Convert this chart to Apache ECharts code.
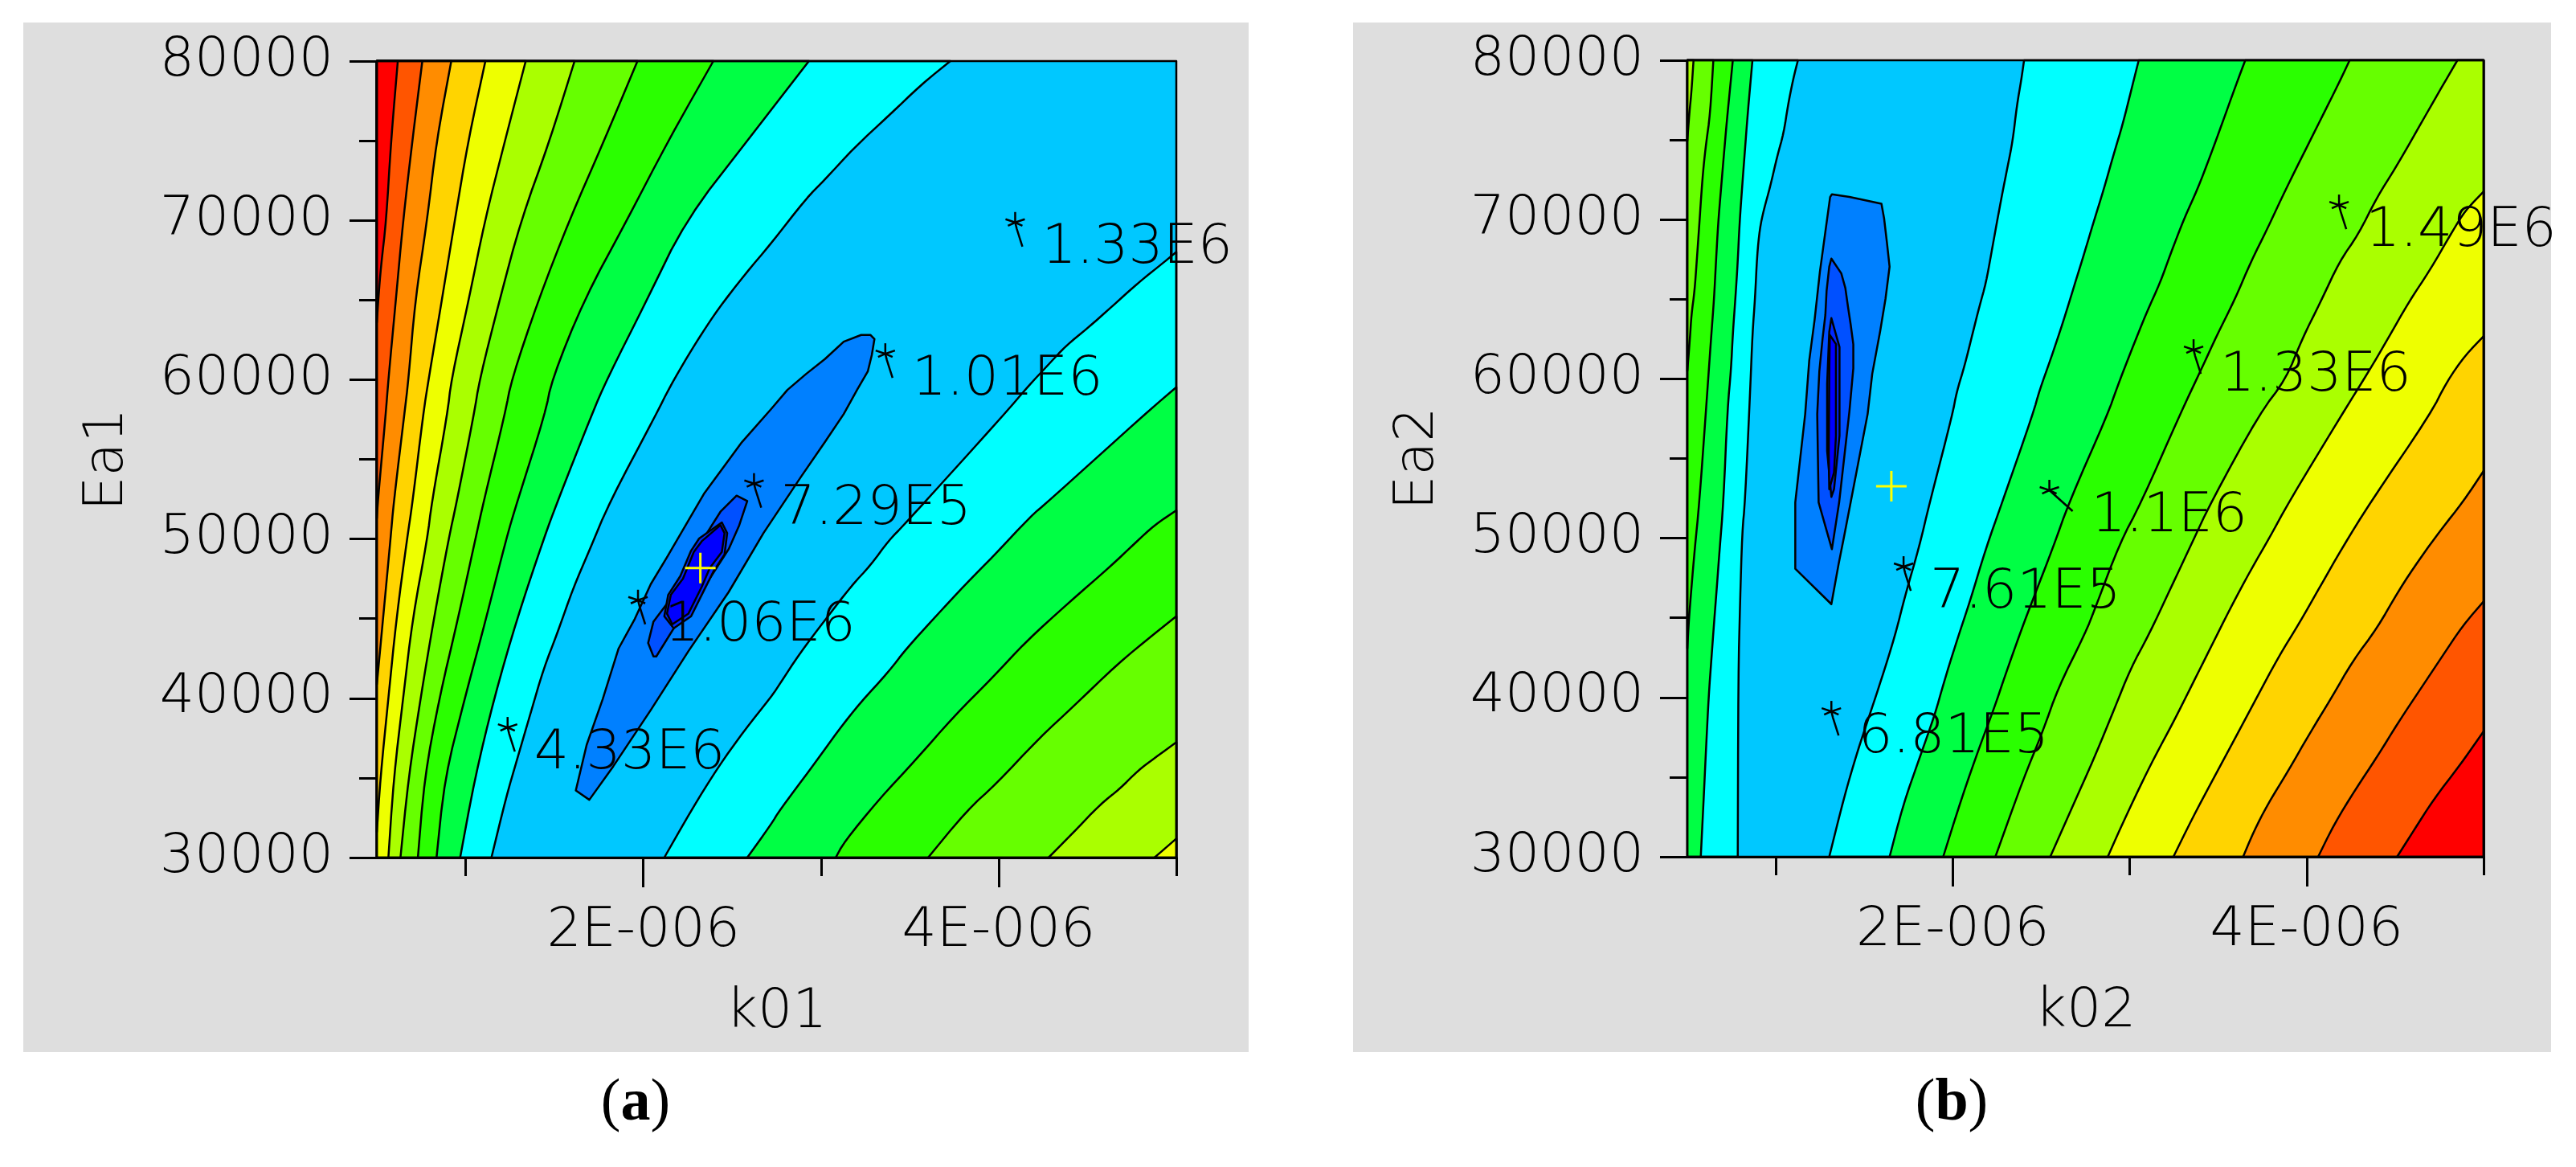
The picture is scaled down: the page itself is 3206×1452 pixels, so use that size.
<!DOCTYPE html>
<html><head><meta charset="utf-8">
<style>html,body{margin:0;padding:0;background:#fff}#c{width:3206px;height:1452px}</style>
<script src="https://cdn.jsdelivr.net/npm/echarts@6/dist/echarts.min.js"></script>
</head><body><div id="c"></div>
<script>
// ---------- values: [k0 (in 1E-6), Ea] ----------
const aL1=[[.618,80000],[.580,75000],[.553,70000],[.523,67100],[.509,65160],[.5,63600]];
const aL2=[[.756,80000],[.700,75000],[.648,70000],[.607,65000],[.565,60000],[.550,57844],[.505,52299],[.5,51290]];
const aL3=[[.919,80000],[.836,75000],[.783,70000],[.716,65000],[.678,60000],[.655,57844],[.595,52299],[.577,50000],[.535,45000],[.5,40862]];
const aL4=[[1.111,80000],[1.014,75000],[.939,70000],[.866,65000],[.791,60000],[.761,57844],[.701,52299],[.670,50000],[.610,45000],[.565,40000],[.520,35000],[.5,31610]];
const aL5=[[1.338,80000],[1.221,75000],[1.108,70000],[1.017,65000],[.919,60000],[.897,57844],[.809,52299],[.784,50000],[.701,45000],[.648,40000],[.595,35000],[.565,30000]];
const aL6=[[1.613,80000],[1.473,75000],[1.311,70000],[1.191,65000],[1.078,60000],[1.047,57844],[.949,52299],[.904,50000],[.821,45000],[.746,40000],[.678,35000],[.633,30000]];
const aL7=[[1.967,80000],[1.779,75000],[1.583,70000],[1.409,65000],[1.258,60000],[1.221,57844],[1.100,52299],[1.055,50000],[.957,45000],[.851,40000],[.768,35000],[.731,30000]];
const aL8=[[2.394,80000],[2.140,75000],[1.907,70000],[1.665,65000],[1.485,60000],[1.447,57844],[1.289,52299],[1.228,50000],[1.115,45000],[.995,40000],[.882,35000],[.836,30000]];
const aL9=[[2.932,80000],[2.585,75000],[2.238,70000],[2.020,65000],[1.794,60000],[1.711,57844],[1.515,52299],[1.439,50000],[1.289,45000],[1.160,40000],[1.052,35000],[.969,30000]];
const aL10=[[3.728,80000],[3.565,78533],[3.384,76598],[3.188,74580],[3.015,72477],[2.917,71384],[2.721,68575],[2.570,66590],[2.419,64404],[2.329,62890],[2.253,61544],[2.148,59526],[2.073,57844],[1.809,52299],[1.696,49271],[1.605,46917],[1.515,44057],[1.439,41871],[1.364,39011],[1.289,36152],[1.228,33797],[1.145,30000]];
const aR1=[[5,68020],[4.937,67431],[4.786,66086],[4.636,64572],[4.500,63226],[4.379,62133],[4.274,60872],[4.168,59610],[4.033,57844],[3.467,50869],[3.384,49944],[3.279,48346],[3.173,47085],[3.022,44898],[2.879,42796],[2.766,40862],[2.721,40105],[2.570,38002],[2.419,35647],[2.269,32956],[2.118,30000]];
const aR2=[[5,59526],[4.832,57928],[4.274,52299],[4.183,51458],[3.972,48935],[3.821,47253],[3.640,45066],[3.475,43048],[3.384,41703],[3.218,39684],[3.098,37982],[2.947,35647],[2.766,32956],[2.721,32115],[2.585,30000]];
const aR3=[[5,51794],[4.877,50869],[4.771,49776],[4.636,48346],[4.394,45992],[4.153,43553],[3.972,41366],[3.746,38843],[3.535,36152],[3.324,33629],[3.128,30938],[3.083,30000]];
const aR4=[[5,45150],[4.877,44057],[4.666,42123],[4.424,39516],[4.228,37497],[3.987,34638],[3.821,32956],[3.603,30000]];
const aR5=[[5,37245],[4.877,36236],[4.786,35479],[4.681,34302],[4.575,33377],[4.409,31442],[4.281,30000]];
const aR6=[[5,31190],[4.922,30433],[4.877,30000]];
const aI1=[[1.620,34216],[1.681,37075],[1.771,39935],[1.861,43131],[1.952,44981],[2.042,47167],[2.133,48849],[2.344,52886],[2.555,56082],[2.721,58180],[2.811,59358],[2.917,60367],[3.022,61292],[3.128,62385],[3.226,62806],[3.279,62806],[3.301,62554],[3.286,61544],[3.264,60535],[3.203,59358],[3.128,57844],[3.022,56082],[2.887,53895],[2.676,50363],[2.480,46663],[2.254,42962],[2.042,39262],[1.831,35730],[1.696,33627]];
const aI2=[[2.525,52718],[2.585,52382],[2.540,50868],[2.480,49354],[2.344,47000],[2.223,45317],[2.073,42626],[2.057,42626],[2.027,43467],[2.057,44813],[2.148,46158],[2.254,48681],[2.329,49859],[2.434,51709]];
const aI3=[[2.442,51036],[2.472,50363],[2.457,49018],[2.397,48008],[2.344,46831],[2.269,45149],[2.171,44392],[2.118,45149],[2.140,46495],[2.208,47672],[2.269,49270],[2.314,50027]];
const aI4=[[2.434,50868],[2.457,50363],[2.442,49186],[2.374,48177],[2.329,47000],[2.254,45317],[2.163,44644],[2.133,45317],[2.155,46495],[2.223,47504],[2.284,49186],[2.329,49859]];

const bL1=[[.535,80000],[.523,77978],[.511,76632],[.5,74950]];
const bL2=[[.647,80000],[.629,76632],[.606,74782],[.591,73268],[.580,71755],[.568,69736],[.553,67381],[.541,65531],[.523,64017],[.515,62588],[.5,60486]];
const bL3=[[.757,80000],[.727,76632],[.712,74782],[.689,71755],[.674,69736],[.662,67381],[.651,65027],[.636,62840],[.621,60486],[.606,58130],[.568,52248],[.541,49220],[.523,46866],[.508,44763],[.5,43081]];
const bL4=[[.868,80000],[.841,76632],[.825,74278],[.810,72091],[.795,69736],[.785,67381],[.772,65111],[.757,62840],[.747,60570],[.727,58130],[.704,52248],[.682,49220],[.667,46950],[.651,44679],[.636,42408],[.621,40138],[.606,36858],[.591,33326],[.576,30000]];
const bL5=[[1.125,80000],[1.098,78819],[1.068,77137],[1.045,75455],[1.007,73941],[.969,72091],[.931,70577],[.909,69400],[.894,67718],[.883,65111],[.868,62840],[.856,59476],[.826,52248],[.810,50398],[.798,45940],[.788,41399],[.785,30000]];
const bR1=[[2.403,80000],[2.388,78819],[2.362,77137],[2.339,74950],[2.309,73268],[2.279,71586],[2.248,69736],[2.218,67886],[2.188,66036],[2.150,64522],[2.112,62840],[2.067,60822],[2.021,59140],[1.999,57794],[1.870,52248],[1.809,49389],[1.734,46529],[1.673,43838],[1.597,41147],[1.537,39128],[1.461,36605],[1.386,33746],[1.302,30000]];
const bR2=[[3.051,80000],[3.013,78314],[2.960,75960],[2.914,74278],[2.854,71923],[2.793,69736],[2.748,68054],[2.687,65868],[2.627,63681],[2.551,61158],[2.491,59308],[2.453,57794],[2.279,52248],[2.188,49389],[2.097,46025],[2.021,43502],[1.946,40810],[1.900,38960],[1.809,36101],[1.719,33241],[1.643,30000]];
const bR3=[[3.653,80000],[3.596,78314],[3.520,75960],[3.459,74109],[3.384,71923],[3.308,70073],[3.232,67886],[3.172,66036],[3.096,64186],[3.005,61663],[2.929,59476],[2.876,57794],[2.657,52248],[2.566,49389],[2.460,46361],[2.385,44174],[2.294,41315],[2.233,39297],[2.158,37110],[2.052,33746],[1.946,30000]];
const bR4=[[4.243,80000],[4.186,78651],[4.080,76296],[3.989,74278],[3.883,71923],[3.777,69400],[3.686,67381],[3.596,65027],[3.490,62672],[3.414,60822],[3.285,57794],[3.066,52248],[2.945,49725],[2.808,45688],[2.748,44006],[2.597,40642],[2.506,37783],[2.400,34923],[2.241,30000]];
const bR5=[[4.852,80000],[4.746,77978],[4.625,75623],[4.504,73268],[4.398,71418],[4.292,69063],[4.186,67381],[4.080,64858],[3.974,62504],[3.883,59981],[3.732,57794],[3.459,52248],[3.353,49725],[3.232,46866],[3.111,43998],[3.005,41820],[2.914,39297],[2.808,36437],[2.748,34923],[2.551,30000]];
const bR6=[[5,71755],[4.897,70577],[4.822,69232],[4.700,66877],[4.579,64859],[4.458,62504],[4.352,60486],[4.201,57794],[3.898,52248],[3.792,50061],[3.686,48043],[3.565,45520],[3.459,43165],[3.353,40810],[3.247,38455],[3.141,36269],[3.051,34250],[2.945,31728],[2.876,30000]];
const bR7=[[5,62672],[4.897,61494],[4.791,59812],[4.700,57794],[4.360,52248],[4.201,49389],[4.080,47034],[3.959,44679],[3.838,42492],[3.717,39970],[3.596,37446],[3.474,34923],[3.353,32400],[3.247,30000]];
const bR8=[[5,54216],[4.882,52248],[4.761,50566],[4.640,48716],[4.519,46697],[4.398,44343],[4.262,42324],[4.140,39969],[4.019,37783],[3.898,35428],[3.777,33241],[3.700,31559],[3.641,30000]];
const bR9=[[5,46025],[4.882,44511],[4.761,42492],[4.640,40474],[4.519,38455],[4.398,36269],[4.277,34250],[4.156,32064],[4.065,30000]];
const bR10=[[5,37867],[4.867,35764],[4.716,33578],[4.610,31728],[4.511,30000]];
const bI1=[[1.317,71587],[1.416,71418],[1.491,71250],[1.597,70998],[1.612,70073],[1.628,68559],[1.643,67045],[1.620,65027],[1.590,63008],[1.545,60317],[1.519,57794],[1.423,52248],[1.385,50061],[1.355,48379],[1.314,45856],[1.110,48077],[1.110,52248],[1.166,57794],[1.189,61158],[1.219,63681],[1.249,66709],[1.280,69232],[1.307,71418]];
const bI2=[[1.314,67550],[1.370,66625],[1.393,65699],[1.408,64522],[1.423,63429],[1.438,62167],[1.438,60654],[1.416,57962],[1.358,52248],[1.317,49305],[1.242,52248],[1.234,57794],[1.246,60485],[1.264,62503],[1.280,64018],[1.287,65531],[1.302,67045]];
const bI3=[[1.314,63812],[1.360,61990],[1.360,56428],[1.329,53072],[1.314,52592],[1.290,55469],[1.290,59689],[1.302,62949]];
const bI4=[[1.305,62757],[1.340,62182],[1.340,56428],[1.329,54126],[1.302,53072],[1.299,55277],[1.302,60264]];

const starsA=[[4.093,69870,'1.33E6'],[3.362,61629,'1.01E6'],[2.623,53475,'7.29E5'],[1.970,46158,'1.06E6'],[1.236,38170,'4.33E6']];
const starsB=[[4.183,70914,'1.49E6'],[3.361,61831,'1.33E6'],[2.546,53005,'1.1E6'],[1.722,48211,'7.61E5'],[1.314,39128,'6.81E5']];
const bestA=[[2.321,48177]];
const bestB=[[1.653,53263]];
const yRange=[30000,80000];
const xLongTicks=[2,4];
const xShortTicks=[1,3,5];
const names={ax:'k01',ay:'Ea1',bx:'k02',by:'Ea2'};

// ---------- colour ramp ----------
const RED='#ff0000',R55='#ff5500',ORA='#ff8c00',GOLD='#ffd400',YEL='#eeff00',LIM='#aaff00',G66='#66ff00',G2A='#2aff00',G4C='#00ff44',CYA='#00ffff',SKY='#00c8ff',B80='#0080ff',B50='#0050ff',B28='#0028ff',BLU='#0000ff';

const XMIN=.5,XMAX=5,YMIN=yRange[0],YMAX=yRange[1];
// band = [points, fill, how many leading points form the curved contour]
const closeL=(l,c)=>[l[l.length-1][1]===YMIN?[...l,[XMIN,YMIN],[XMIN,YMAX]]:[...l,[XMIN,YMAX]],c,l.length];
const closeR=(l,c)=>[l[0][1]===YMAX?[...l,[XMAX,YMIN],[XMAX,YMAX]]:[...l,[XMAX,YMIN]],c,l.length];
const frame=[[XMIN,YMIN],[XMAX,YMIN],[XMAX,YMAX],[XMIN,YMAX]];

const bandsA=[
 closeL(aL10,CYA),closeL(aL9,G4C),closeL(aL8,G2A),closeL(aL7,G66),closeL(aL6,LIM),closeL(aL5,YEL),closeL(aL4,GOLD),closeL(aL3,ORA),closeL(aL2,R55),closeL(aL1,RED),
 closeR(aR1,CYA),closeR(aR2,G4C),closeR(aR3,G2A),closeR(aR4,G66),closeR(aR5,LIM),closeR(aR6,YEL),
 [aI1,B80,0],[aI2,B50,0],[aI3,B28,0],[aI4,BLU,0],[frame,'none',0]];
const bandsB=[
 closeL(bL5,CYA),closeL(bL4,G4C),closeL(bL3,G2A),closeL(bL2,G66),closeL(bL1,LIM),
 closeR(bR1,CYA),closeR(bR2,G4C),closeR(bR3,G2A),closeR(bR4,G66),closeR(bR5,LIM),closeR(bR6,YEL),closeR(bR7,GOLD),closeR(bR8,ORA),closeR(bR9,R55),closeR(bR10,RED),
 [bI1,B80,0],[bI2,B50,0],[bI3,B28,0],[bI4,BLU,0],[frame,'none',0]];

const FONT='DejaVu Sans';
const TXT={fontFamily:FONT,fontWeight:200,fontSize:68,color:'#000'};

// rounds the corners of a contour on screen, like a line series' smooth option
function rounded(pts){let p=pts;for(let n=0;n<2;n++){const o=[p[0]];
  for(let i=0;i<p.length-1;i++){const a=p[i],b=p[i+1];
    if(i>0)o.push([a[0]*.75+b[0]*.25,a[1]*.75+b[1]*.25]);
    if(i<p.length-2)o.push([a[0]*.25+b[0]*.75,a[1]*.25+b[1]*.75]);}
  o.push(p[p.length-1]);p=o;}return p;}

function contourSeries(bands,i){return {type:'custom',coordinateSystem:'cartesian2d',xAxisIndex:i,yAxisIndex:i,silent:true,z:2,clip:false,
  data:bands.map((b,n)=>[n]),
  renderItem:(p,api)=>{const b=bands[api.value(0)];const sc=b[0].map(q=>api.coord(q));
    const pts=b[2]?[...rounded(sc.slice(0,b[2])),...sc.slice(b[2])]:sc;
    return {type:'polygon',shape:{points:pts},style:{fill:b[1],stroke:'#000',lineWidth:2.5,lineJoin:'round'}};}};}
function starSeries(stars,i){return {type:'custom',coordinateSystem:'cartesian2d',xAxisIndex:i,yAxisIndex:i,silent:true,z:5,clip:false,
  data:stars.map(s=>[s[0],s[1]]),
  renderItem:(p,api)=>{const c=api.coord([api.value(0),api.value(1)]);const s=stars[p.dataIndex];const long=s[2]==='1.1E6';
    const seg=[[[0,-13],[0,0]],[[-12,-4],[0,0],[12,-4]],[[-9,4],[0,0],[9,4]],long?[[0,0],[29,26]]:[[0,0],[2,8],[9,30]]];
    const st={stroke:'#000',fill:'none',lineWidth:2.5};
    return {type:'group',x:c[0],y:c[1],children:[
      ...seg.map(g=>({type:'polyline',shape:{points:g},style:st})),
      {type:'text',x:long?52:33,y:33,style:{text:s[2],font:`${TXT.fontWeight} ${TXT.fontSize}px "${FONT}"`,fill:'#000',textAlign:'left',textVerticalAlign:'middle'}}
    ]};}};}
function bestSeries(best,i){return {type:'custom',coordinateSystem:'cartesian2d',xAxisIndex:i,yAxisIndex:i,silent:true,z:6,clip:false,
  data:best,renderItem:(p,api)=>{const c=api.coord([api.value(0),api.value(1)]);
    const st={stroke:'#ffff00',fill:'none',lineWidth:3};
    return {type:'group',x:c[0],y:c[1],children:[
      {type:'line',shape:{x1:-19,y1:0,x2:19,y2:0},style:st},{type:'line',shape:{x1:0,y1:-19,x2:0,y2:19},style:st}]};}};}

const AL={lineStyle:{color:'#000',width:3},onZero:false};
function xMain(i,name){return {gridIndex:i,type:'value',position:'bottom',min:XMIN,max:XMAX,name,nameLocation:'middle',nameGap:159,nameTextStyle:TXT,
  axisLine:{show:true,...AL},splitLine:{show:false},
  axisTick:{show:true,customValues:xLongTicks,length:37,lineStyle:{color:'#000',width:3}},
  axisLabel:{customValues:xLongTicks,formatter:v=>v+'E-006',margin:58,...TXT}};}
function xShort(i){return {gridIndex:i,type:'value',position:'bottom',min:XMIN,max:XMAX,
  axisLine:{show:false},splitLine:{show:false},
  axisTick:{show:true,customValues:xShortTicks,length:23,lineStyle:{color:'#000',width:3}},
  axisLabel:{show:false}};}
function yMain(i,name){return {gridIndex:i,type:'value',min:YMIN,max:YMAX,interval:10000,name,nameLocation:'middle',nameGap:301,nameTextStyle:TXT,
  axisLine:{show:true,...AL},splitLine:{show:false},
  axisTick:{show:true,length:34,lineStyle:{color:'#000',width:3}},
  minorTick:{show:true,splitNumber:2,length:22,lineStyle:{color:'#000',width:3}},
  axisLabel:{margin:54,formatter:v=>String(v),...TXT}};}

const panel=(x,w)=>({type:'rect',silent:true,z:-10,shape:{x,y:28,width:w,height:1281},style:{fill:'#dedede'}});
const caption=(cx,l)=>({type:'text',silent:true,x:cx,y:1374,style:{
  text:`{p|(}{b|${l}}{p|)}`,align:'center',verticalAlign:'middle',
  rich:{p:{fontFamily:'Liberation Serif',fontSize:74,fill:'#000'},b:{fontFamily:'Liberation Serif',fontSize:74,fontWeight:'bold',fill:'#000'}}}});

const chart=echarts.init(document.getElementById('c'),null,{renderer:'canvas',width:3206,height:1452});
chart.setOption({animation:false,backgroundColor:'#fff',
  graphic:{elements:[panel(29,1525),panel(1684,1491),caption(791,'a'),caption(2429,'b')]},
  grid:[{left:469,top:76,width:995,height:991,show:true,backgroundColor:SKY,borderWidth:0},
        {left:2100,top:75,width:991,height:991,show:true,backgroundColor:SKY,borderWidth:0}],
  xAxis:[xMain(0,names.ax),xMain(1,names.bx),xShort(0),xShort(1)],
  yAxis:[yMain(0,names.ay),yMain(1,names.by)],
  series:[contourSeries(bandsA,0),contourSeries(bandsB,1),starSeries(starsA,0),starSeries(starsB,1),bestSeries(bestA,0),bestSeries(bestB,1)]
});
</script></body></html>
